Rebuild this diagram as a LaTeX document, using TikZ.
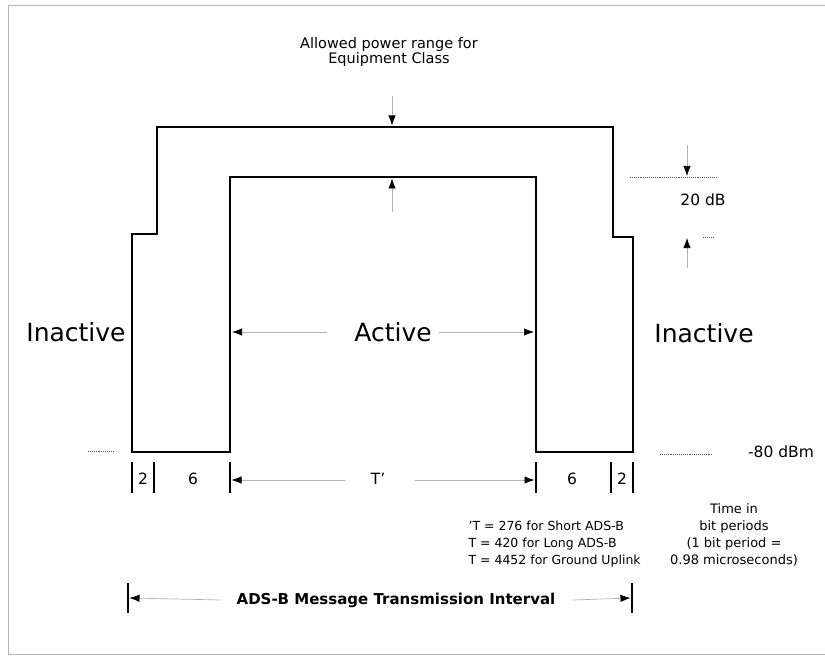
\documentclass[tikz,border=0pt]{standalone}
\usepackage{fontspec}
\setmainfont{DejaVu Sans}
\usetikzlibrary{arrows.meta, positioning, calc}

\begin{document}
\begin{tikzpicture}[
        x=1pt, y=-1pt,
        wave/.style={line width=1.8pt},
        bar/.style={line width=1.4pt},
        arr/.style={line width=0.7pt, draw=gray!60, -{Latex[length=10pt, width=7.5pt, black]}},
        level/.style={densely dotted, line width=0.9pt, draw=gray!70!black},
        big/.style={font=\fontsize{25}{30}\selectfont},
        lbl/.style={font=\fontsize{15.5}{18}\selectfont},
        note/.style={font=\fontsize{12.5}{17}\selectfont},
        frame/.style={draw=gray!60, line width=0.6pt}
    ]
        \useasboundingbox (0,0) rectangle (825,658);
        \draw[frame] (825,5) -- (8,5) -- (8,654) -- (825,654);

        \draw[wave] (132,452) -- (132,234) -- (157,234) -- (157,127) -- (613,127) -- (613,237)
            -- (633,237) -- (633,452) -- (536,452) -- (536,177) -- (230,177) -- (230,452) -- cycle;

        \node[note, font=\fontsize{14.5}{15}\selectfont, align=center] (allowed) at (389,52)
            {Allowed power range for\\Equipment Class};
        \coordinate (outtop) at (392,125.5);
        \coordinate (intop)  at (392,178.5);
        \coordinate (pwrA)   at (392,96);
        \coordinate (pwrB)   at (392,212);
        \draw[arr] (pwrA) -- (outtop);
        \draw[arr] (pwrB) -- (intop);

        \coordinate (hiA) at (630,177);
        \coordinate (hiB) at (717,177);
        \coordinate (loA) at (703,237);
        \coordinate (loB) at (714,237);
        \draw[level] (hiA) -- (hiB);
        \draw[level] (loA) -- (loB);
        \node[lbl] (db) at (703,200) {20 dB};
        \draw[arr] (687,145) coordinate (dbA) -- (687,176) coordinate (dbB);
        \draw[arr] (687,268) coordinate (dbC) -- (687,238) coordinate (dbD);

        \coordinate (baseA) at (88,451);
        \coordinate (baseB) at (113,451);
        \coordinate (baseC) at (660,454);
        \coordinate (baseD) at (713,454);
        \draw[level] (baseA) -- (baseB);
        \draw[level] (baseC) -- (baseD);
        \node[lbl] (dbm) at (781,452) {-80 dBm};

        \node[big] (inL) at (76,332)  {Inactive};
        \node[big] (act) at (393,332) {Active};
        \node[big] (inR) at (704,333) {Inactive};
        \coordinate (actA) at (327,332);
        \coordinate (actB) at (232,332);
        \coordinate (actC) at (534,332);
        \draw[arr] (actA) -- (actB);
        \draw[arr] ([xshift=4pt]act.east) -- (actC);

        \foreach \x in {132,154,230,536,611,633}
            \draw[bar] (\x,462) -- (\x,493);
        \node[lbl] (twoL) at (143,479) {2};
        \node[lbl] (sixL) at (193,479) {6};
        \node[lbl] (tp)   at (378,479) {T'};
        \node[lbl] (sixR) at (572,479) {6};
        \node[lbl] (twoR) at (622,479) {2};
        \coordinate (tpA) at (345,480);
        \coordinate (tpB) at (231.5,480);
        \coordinate (tpC) at (415,480);
        \coordinate (tpD) at (534.5,480);
        \draw[arr] (tpA) -- (tpB);
        \draw[arr] (tpC) -- (tpD);

        \node[note, anchor=west, align=left] (tnote) at (465,544)
            {'T = 276 for Short ADS-B\\T = 420 for Long ADS-B\\T = 4452 for Ground Uplink};
        \node[note, font=\fontsize{13}{17}\selectfont, align=center] (bits) at (734,535)
            {Time in\\bit periods\\(1 bit period =\\0.98 microseconds)};

        \node[font=\bfseries\fontsize{15}{18}\selectfont] (interval) at (396,600)
            {ADS-B Message Transmission Interval};
        \draw[bar] (128,583) -- (128,613);
        \draw[bar] (632,583) -- (632,613);
        \coordinate (ivA) at (129.5,598);
        \coordinate (ivB) at (630.5,598);
        \draw[arr] ([xshift=-12pt]interval.west) -- (ivA);
        \draw[arr] ([xshift=14pt]interval.east) -- (ivB);
    \end{tikzpicture}
\end{document}
